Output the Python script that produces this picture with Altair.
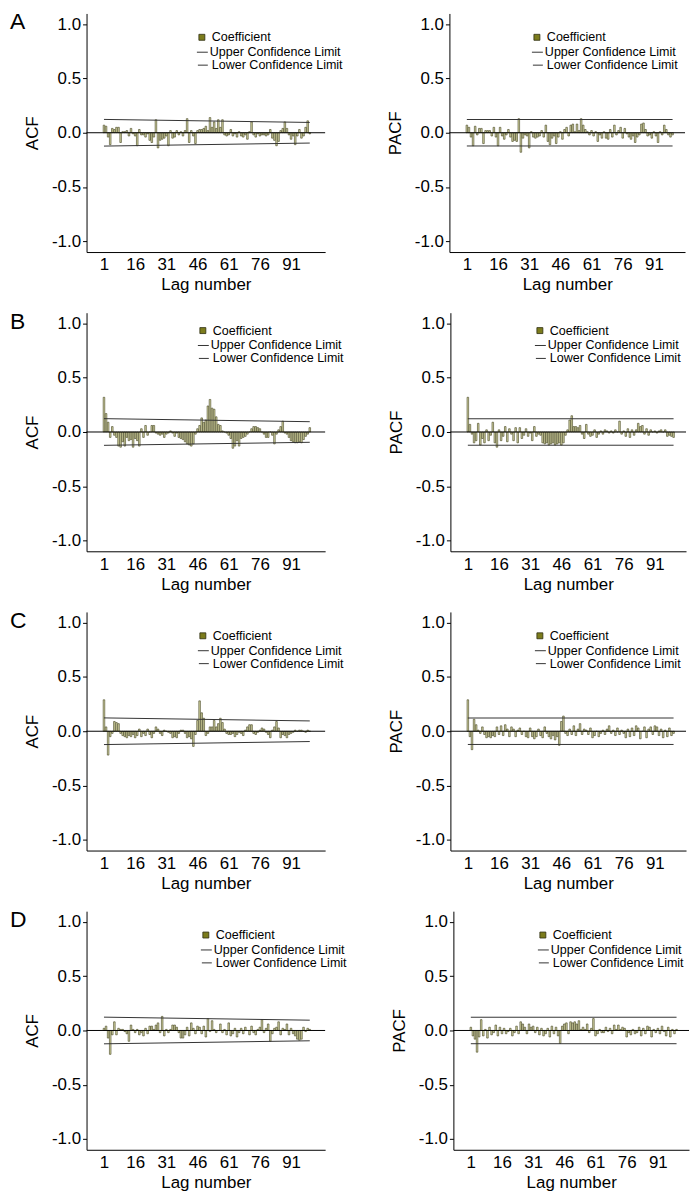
import altair as alt
import pandas as pd

LAGS = list(range(1, 101))
X_TICKS = [1, 16, 31, 46, 61, 76, 91]
Y_TICKS = [-1.0, -0.5, 0.0, 0.5, 1.0]

A_ACF = [0.07, 0.06, -0.04, -0.11, 0.04, 0.03, 0.05, 0.05, -0.09, 0.01,
         0.01, 0.02, -0.03, 0.04, -0.01, -0.03, -0.12, 0.03, -0.02, -0.02,
         -0.04, -0.01, -0.07, -0.09, -0.04, 0.12, -0.14, -0.07, -0.06, -0.05,
         -0.03, -0.12, 0.02, -0.05, -0.04, 0.02, -0.02, 0.01, -0.03, 0.02,
         0.13, -0.09, 0.02, -0.03, -0.10, 0.02, 0.03, 0.03, 0.04, 0.06,
         0.02, 0.14, 0.05, 0.10, 0.04, 0.12, 0.05, 0.12, -0.02, -0.03,
         -0.02, 0.03, -0.03, -0.01, -0.04, 0.01, -0.03, -0.04, -0.02, -0.06,
         0.01, 0.10, -0.02, -0.04, -0.01, -0.03, -0.02, -0.02, -0.03, -0.02,
         0.03, -0.05, -0.07, -0.12, -0.08, 0.02, 0.04, 0.10, 0.04, -0.02,
         -0.06, -0.03, -0.11, -0.03, 0.03, -0.05, -0.03, 0.05, 0.11, -0.01]
A_PACF = [0.07, 0.05, -0.04, -0.12, 0.06, -0.02, 0.04, 0.04, -0.10, 0.02,
          0.02, 0.02, -0.03, 0.05, -0.04, -0.12, 0.05, -0.03, -0.06, -0.02,
          0.03, -0.04, -0.08, -0.07, -0.08, 0.13, -0.18, -0.05, -0.02, -0.03,
          -0.14, 0.01, -0.04, -0.05, -0.04, -0.03, 0.02, -0.04, 0.07, -0.08,
          -0.11, -0.05, -0.03, -0.10, -0.04, 0.01, -0.06, 0.03, 0.05, -0.03,
          0.07, 0.08, 0.01, 0.08, 0.02, 0.13, 0.07, 0.03, 0.01, -0.02,
          0.02, -0.03, 0.01, -0.08, -0.02, -0.05, 0.01, -0.05, -0.06, 0.03,
          -0.04, 0.07, -0.02, 0.02, 0.05, -0.05, 0.04, -0.01, -0.04, -0.06,
          -0.03, -0.09, -0.04, -0.02, 0.08, 0.09, 0.03, -0.03, -0.02, -0.05,
          0.01, -0.03, -0.09, 0.01, -0.02, 0.07, 0.03, -0.02, -0.04, -0.02]
B_ACF = [0.32, 0.17, 0.09, -0.05, 0.05, -0.03, -0.05, -0.13, -0.14, -0.09,
         -0.13, -0.05, -0.08, -0.07, -0.14, -0.06, -0.08, -0.13, 0.03, -0.05,
         0.06, -0.03, 0.00, 0.06, 0.06, -0.01, -0.02, -0.03, -0.02, -0.05,
         -0.02, -0.01, 0.01, -0.01, -0.04, -0.01, -0.05, -0.06, -0.07, -0.09,
         -0.11, -0.12, -0.13, -0.11, -0.02, 0.03, 0.06, 0.13, 0.09, 0.11,
         0.24, 0.30, 0.22, 0.21, 0.14, 0.07, 0.06, 0.01, 0.00, -0.01,
         -0.03, -0.06, -0.15, -0.13, -0.08, -0.13, -0.06, -0.05, -0.04, -0.02,
         0.00, 0.03, 0.05, 0.05, 0.04, 0.03, 0.00, -0.02, -0.05, -0.05,
         0.00, -0.03, -0.11, -0.02, 0.02, 0.05, 0.10, -0.01, -0.02, -0.05,
         -0.08, -0.09, -0.10, -0.10, -0.09, -0.10, -0.07, -0.04, -0.02, 0.04]
B_PACF = [0.32, 0.07, -0.02, -0.10, -0.08, 0.08, -0.12, -0.06, -0.10, 0.02,
          -0.08, -0.03, 0.09, -0.10, -0.14, 0.02, -0.08, -0.04, 0.05, -0.09,
          0.03, -0.02, -0.08, 0.04, -0.10, 0.04, -0.06, -0.03, 0.03, -0.04,
          -0.01, -0.08, 0.05, -0.04, -0.02, -0.03, -0.10, -0.11, -0.10, -0.12,
          -0.11, -0.10, -0.12, -0.11, -0.10, -0.12, -0.10, -0.03, 0.02, 0.11,
          0.15, 0.05, 0.05, 0.04, 0.06, -0.02, -0.06, 0.07, -0.02, -0.04,
          -0.03, 0.02, -0.05, -0.02, 0.01, -0.02, 0.02, 0.01, -0.01, 0.01,
          -0.01, 0.02, 0.00, 0.10, -0.02, 0.01, -0.04, 0.03, -0.05, 0.02,
          -0.03, 0.02, 0.08, 0.05, 0.06, -0.02, 0.03, -0.03, 0.02, 0.00,
          0.01, -0.01, 0.01, 0.02, 0.00, 0.02, -0.04, -0.03, -0.04, -0.05]
C_ACF = [0.29, 0.04, -0.22, -0.05, -0.02, 0.09, 0.08, 0.07, -0.02, -0.04,
         -0.05, -0.06, -0.04, -0.05, -0.03, -0.06, -0.04, 0.02, -0.05, -0.02,
         -0.04, 0.02, -0.03, -0.06, -0.02, 0.04, 0.02, -0.02, -0.04, 0.01,
         0.00, -0.01, -0.02, -0.06, -0.05, -0.06, -0.02, 0.01, 0.01, -0.02,
         -0.06, -0.05, -0.07, -0.14, -0.03, 0.10, 0.28, 0.17, 0.12, -0.04,
         -0.02, 0.04, 0.04, 0.10, 0.04, 0.07, 0.12, 0.08, 0.02, -0.02,
         -0.03, -0.03, -0.02, -0.05, -0.03, -0.01, -0.02, -0.04, 0.01, 0.04,
         0.06, 0.06, -0.02, -0.03, -0.01, 0.01, 0.03, 0.02, -0.01, -0.03,
         -0.06, 0.01, 0.04, 0.09, 0.03, -0.06, -0.03, -0.04, -0.06, -0.03,
         -0.02, -0.01, 0.01, 0.00, 0.01, 0.01, 0.00, -0.01, 0.01, 0.00]
C_PACF = [0.29, -0.05, -0.17, 0.11, 0.06, 0.01, -0.02, 0.04, -0.03, -0.06,
          -0.05, -0.06, -0.04, -0.05, 0.04, -0.03, 0.05, -0.04, 0.06, 0.02,
          -0.05, 0.04, 0.02, -0.05, 0.01, 0.03, -0.03, 0.00, -0.05, -0.06,
          0.03, -0.05, -0.07, -0.05, 0.02, -0.04, -0.06, 0.04, -0.02, -0.05,
          -0.07, -0.04, -0.08, -0.05, -0.13, 0.09, 0.14, -0.02, -0.04, 0.02,
          -0.03, 0.05, -0.04, 0.02, 0.07, -0.03, 0.02, 0.01, -0.03, 0.03,
          -0.06, -0.04, 0.00, -0.05, -0.02, 0.01, -0.03, 0.02, 0.05, -0.02,
          0.01, -0.04, 0.03, -0.03, 0.01, -0.02, -0.06, 0.02, -0.05, 0.03,
          -0.04, 0.05, 0.03, -0.07, 0.00, 0.04, -0.06, 0.02, 0.04, -0.03,
          0.05, 0.04, -0.04, 0.02, -0.06, 0.01, -0.05, 0.03, -0.04, -0.02]
D_ACF = [0.02, 0.04, -0.07, -0.22, -0.04, 0.08, -0.04, 0.02, 0.01, 0.01,
         -0.01, -0.03, -0.10, 0.05, 0.01, -0.02, 0.01, -0.04, -0.02, -0.05,
         0.02, -0.03, 0.04, 0.04, 0.01, 0.05, 0.07, -0.02, 0.13, -0.05,
         0.01, -0.02, 0.01, 0.05, 0.05, 0.03, -0.02, -0.07, -0.07, -0.04,
         0.03, -0.05, 0.07, 0.02, -0.03, 0.04, 0.03, -0.03, 0.04, -0.06,
         0.11, -0.01, 0.09, 0.01, -0.02, 0.00, 0.06, -0.02, 0.01, -0.04,
         0.07, -0.05, -0.03, 0.02, -0.06, -0.02, 0.02, -0.03, 0.03, 0.00,
         -0.04, 0.04, -0.02, -0.04, 0.01, 0.03, 0.10, -0.02, 0.02, 0.06,
         -0.10, -0.03, 0.02, 0.03, 0.08, -0.04, 0.02, 0.01, 0.06, -0.04,
         0.02, -0.03, -0.05, -0.08, -0.09, -0.08, 0.03, -0.01, 0.02, 0.01]
D_PACF = [0.03, -0.05, -0.08, -0.20, -0.06, 0.10, -0.05, 0.01, -0.07, 0.03,
          -0.04, -0.02, 0.05, -0.05, 0.03, -0.03, 0.02, -0.03, -0.01, 0.02,
          -0.05, -0.02, 0.04, -0.03, 0.08, 0.06, 0.03, -0.03, 0.06, 0.03,
          0.04, -0.02, 0.03, -0.04, 0.02, -0.05, -0.03, 0.02, -0.06, 0.04,
          -0.03, 0.03, -0.05, -0.12, 0.04, 0.06, 0.07, -0.03, 0.08, 0.07,
          0.08, 0.06, 0.09, 0.01, 0.03, 0.01, 0.06, -0.02, 0.02, 0.11,
          -0.05, -0.03, 0.01, -0.02, -0.02, 0.03, -0.01, 0.02, -0.03, 0.05,
          0.01, 0.05, 0.01, 0.03, 0.02, -0.06, -0.02, -0.04, 0.01, -0.03,
          -0.02, 0.03, -0.05, 0.02, -0.03, 0.04, 0.03, -0.06, 0.01, -0.02,
          0.02, -0.03, 0.04, -0.01, -0.05, 0.03, -0.06, 0.01, -0.03, 0.01]

# confidence limits at first and last lag
CI_LAGS = [1, 100]
ACF_UPPER = [0.123, 0.095]
ACF_LOWER = [-0.123, -0.095]
PACF_UPPER = [0.122, 0.122]
PACF_LOWER = [-0.122, -0.122]

FONT = "Liberation Sans"
BAR_FILL = "#d6d6a4"
BAR_STROKE = "#40401c"
LINE_COLOR = "#333333"

LABEL_EXPR = "datum.value < 0 ? '-' + format(-datum.value, '.1f') : format(datum.value, '.1f')"


def panel(kind, values, upper, lower, width, xmax, lx, ly, letter=None):
    df = pd.DataFrame({"lag": LAGS, "value": values, "zero": [0.0] * len(LAGS)})
    ci = pd.DataFrame({"lag": CI_LAGS, "upper": upper, "lower": lower})
    one = alt.Data(values=[{"k": 1}])
    xs = alt.Scale(domain=[-5, xmax], nice=False, zero=False)
    ys = alt.Scale(domain=[-1.1, 1.1], nice=False)
    xaxis = alt.Axis(values=X_TICKS, format="d", title="Lag number", grid=False,
                     ticks=False, labelPadding=5, titlePadding=4,
                     labelFlush=False, labelOverlap=False)
    yaxis = alt.Axis(values=Y_TICKS, labelExpr=LABEL_EXPR, title=kind, grid=False,
                     tickSize=4, labelPadding=2, titlePadding=10,
                     labelOverlap=False)
    X = lambda f: alt.X(f, type="quantitative", scale=xs, axis=xaxis)
    Y = lambda f: alt.Y(f, type="quantitative", scale=ys, axis=yaxis)
    bars = alt.Chart(df).mark_bar(size=1.6, fill=BAR_FILL, stroke=BAR_STROKE,
                                  strokeWidth=0.6).encode(
        x=X("lag"), y=Y("value"), y2="zero:Q")
    zero = alt.Chart(one).mark_rule(color="black", strokeWidth=1).encode(
        y=alt.datum(0))
    up = alt.Chart(ci).mark_line(color=LINE_COLOR, strokeWidth=1).encode(
        x=X("lag"), y=Y("upper"))
    lo = alt.Chart(ci).mark_line(color=LINE_COLOR, strokeWidth=1).encode(
        x=X("lag"), y=Y("lower"))

    sq = alt.Chart(one).mark_square(size=36, fill="#7c7c1c", stroke="#2e2e10",
                                    strokeWidth=0.8, opacity=1).encode(
        x=alt.value(lx + 5), y=alt.value(ly))
    t_style = dict(align="left", baseline="middle", font=FONT, fontSize=12.6, color="black")
    t1 = alt.Chart(one).mark_text(**t_style).encode(
        x=alt.value(lx + 15), y=alt.value(ly), text=alt.value("Coefficient"))
    l2 = alt.Chart(one).mark_rule(color=LINE_COLOR, strokeWidth=1).encode(
        x=alt.value(lx), x2=alt.value(lx + 11), y=alt.value(ly + 15))
    t2 = alt.Chart(one).mark_text(**t_style).encode(
        x=alt.value(lx + 13), y=alt.value(ly + 15), text=alt.value("Upper Confidence Limit"))
    l3 = alt.Chart(one).mark_rule(color=LINE_COLOR, strokeWidth=1).encode(
        x=alt.value(lx + 1), x2=alt.value(lx + 11), y=alt.value(ly + 28))
    t3 = alt.Chart(one).mark_text(**t_style).encode(
        x=alt.value(lx + 15), y=alt.value(ly + 28), text=alt.value("Lower Confidence Limit"))

    layers = [bars, zero, up, lo, sq, t1, l2, t2, l3, t3]
    if letter:
        lt = alt.Chart(one).mark_text(align="left", baseline="alphabetic", font=FONT,
                                      fontSize=23, color="black").encode(
            x=alt.value(-77), y=alt.value(16), text=alt.value(letter))
        layers.append(lt)
    return alt.layer(*layers).properties(width=width, height=240)


ROWS = [
    ("A", A_ACF, A_PACF, 24, 111, 83),
    ("B", B_ACF, B_PACF, 18, 112, 85),
    ("C", C_ACF, C_PACF, 24, 112, 85),
    ("D", D_ACF, D_PACF, 24, 115, 85),
]

rows = []
for letter, acf, pacf, ly, lxl, lxr in ROWS:
    left = panel("ACF", acf, ACF_UPPER, ACF_LOWER, 240, 105, lxl, ly, letter)
    right = panel("PACF", pacf, PACF_UPPER, PACF_LOWER, 237, 103.6, lxr, ly)
    rows.append(alt.hconcat(left, right, spacing=43))

chart = alt.vconcat(*rows, spacing=18).properties(
    padding={"left": 2, "top": 0, "right": 0, "bottom": 0}
).configure_view(
    strokeWidth=0
).configure_axis(
    domainColor="black", domainWidth=1, tickColor="black", tickWidth=1,
    labelColor="black", titleColor="black", labelFont=FONT, titleFont=FONT,
    labelFontSize=17, titleFontSize=17, titleFontWeight="normal"
)

chart.save("out.html", embed_options={"renderer": "svg", "actions": False})
